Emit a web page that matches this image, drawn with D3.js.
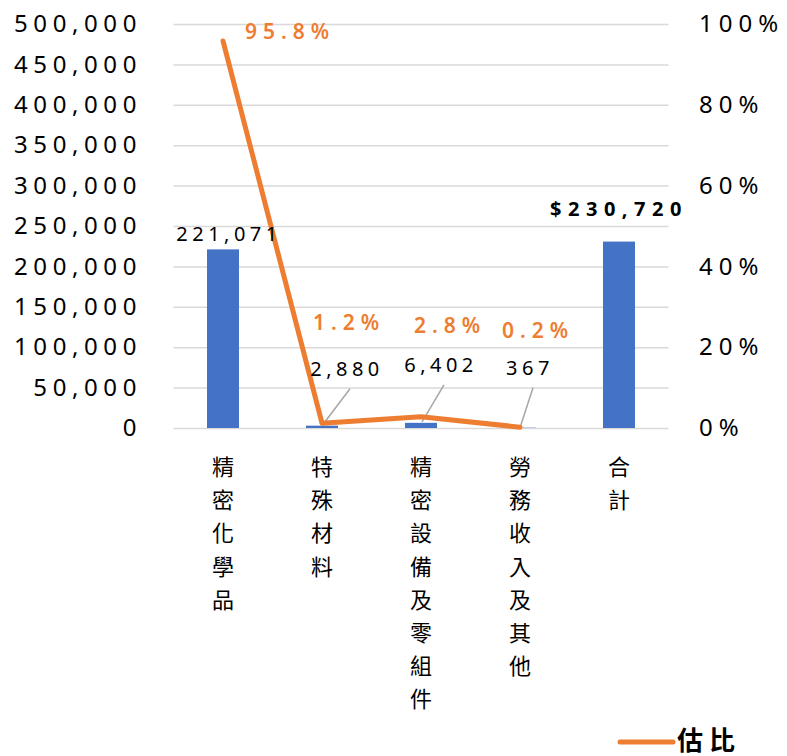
<!DOCTYPE html>
<html>
<head>
<meta charset="utf-8">
<script src="https://cdn.jsdelivr.net/npm/d3@7"></script>
<style>
  body { margin: 0; background: #fff; }
  svg text { font-family: "Noto Sans CJK TC", "Noto Sans", sans-serif; }
</style>
</head>
<body>
<svg width="787" height="756"></svg>
<script>
const categories = ["精密化學品", "特殊材料", "精密設備及零組件", "勞務收入及其他", "合計"]
const amounts = [221071, 2880, 6402, 367, 230720]
const shares = [95.8, 1.2, 2.8, 0.2]
const leftTicks = [0, 50000, 100000, 150000, 200000, 250000, 300000, 350000, 400000, 450000, 500000]
const rightTicks = [0, 20, 40, 60, 80, 100]
const legendLabel = "估比"

// label placement offsets (dx, dy from the mark)
const amountOffsets = [[6, -15], [25, -57], [20, -58], [10, -60], [0, -33]]
const shareOffsets = [[67, -9], [27, -100], [29, -91], [18, -96]]

const svg = d3.select("svg")
const plotL = 173.5, plotR = 668.5, plotT = 24, plotB = 428

const x = d3.scaleBand().domain(categories).range([plotL, plotR])
const y = d3.scaleLinear().domain([0, 500000]).range([plotB, plotT])
const y2 = d3.scaleLinear().domain([0, 100]).range([plotB, plotT])

const fmt = d3.format(",")

// grid
svg.append("g").attr("class", "grid")
  .attr("transform", "translate(" + plotL + ",0)")
  .call(d3.axisLeft(y).tickValues(leftTicks).tickSize(-(plotR - plotL)).tickFormat(""))
  .call(g => g.select(".domain").remove())
  .call(g => g.selectAll("line").attr("stroke", "#d9d9d9").attr("stroke-width", 1.5))

// left axis labels
svg.append("g")
  .attr("transform", "translate(142,0)")
  .call(d3.axisLeft(y).tickValues(leftTicks).tickSize(0).tickPadding(0).tickFormat(fmt))
  .call(g => g.select(".domain").remove())
  .call(g => g.selectAll("text").attr("font-size", 24).attr("letter-spacing", 5.6)
    .attr("fill", "#000").style("font-family", "'Noto Sans', sans-serif"))

// right axis labels
svg.append("g")
  .attr("transform", "translate(699,0)")
  .call(d3.axisRight(y2).tickValues(rightTicks).tickSize(0).tickPadding(0).tickFormat(d => d + "%"))
  .call(g => g.select(".domain").remove())
  .call(g => g.selectAll("text").attr("font-size", 24).attr("letter-spacing", 6)
    .attr("fill", "#000").style("font-family", "'Noto Sans', sans-serif"))

// bars
const bw = 32
svg.selectAll(".bar").data(amounts).enter().append("rect")
  .attr("class", "bar")
  .attr("x", (d, i) => x(categories[i]) + x.bandwidth() / 2 - bw / 2)
  .attr("width", bw)
  .attr("y", d => y(d))
  .attr("height", d => plotB - y(d))
  .attr("fill", "#4472c4")

// leader lines for small bar labels
const leaders = [1, 2, 3]
svg.selectAll(".leader").data(leaders).enter().append("line")
  .attr("x1", i => x(categories[i]) + x.bandwidth() / 2 + amountOffsets[i][0] + 3)
  .attr("y1", i => y(amounts[i]) + amountOffsets[i][1] + 20)
  .attr("x2", i => x(categories[i]) + x.bandwidth() / 2 + (i === 2 ? 1 : 0))
  .attr("y2", i => y(amounts[i]) - (i === 2 ? 1 : 0))
  .attr("stroke", "#a6a6a6").attr("stroke-width", 1.5)

// line
const line = d3.line()
  .x((d, i) => x(categories[i]) + x.bandwidth() / 2)
  .y(d => y2(d))
svg.append("path").datum(shares)
  .attr("d", line)
  .attr("fill", "none")
  .attr("stroke", "#ed7d31")
  .attr("stroke-width", 5)
  .attr("stroke-linejoin", "round")
  .attr("stroke-linecap", "round")

// bar labels
svg.selectAll(".amt").data(amounts).enter().append("text")
  .attr("x", (d, i) => x(categories[i]) + x.bandwidth() / 2 + amountOffsets[i][0])
  .attr("y", (d, i) => y(d) + amountOffsets[i][1] + 7)
  .attr("text-anchor", "middle")
  .attr("font-size", 20)
  .attr("letter-spacing", (d, i) => i === 4 ? 6.5 : 4.5)
  .attr("font-weight", (d, i) => i === 4 ? "bold" : "normal")
  .style("font-family", "'Noto Sans', sans-serif")
  .text((d, i) => (i === 4 ? "$" : "") + fmt(d))

// share labels
svg.selectAll(".pct").data(shares).enter().append("text")
  .attr("x", (d, i) => x(categories[i]) + x.bandwidth() / 2 + shareOffsets[i][0])
  .attr("y", (d, i) => y2(d) + shareOffsets[i][1] + 7)
  .attr("text-anchor", "middle")
  .attr("font-size", 21)
  .attr("font-weight", 600)
  .attr("letter-spacing", 6)
  .attr("fill", "#ed7d31")
  .style("font-family", "'Noto Sans', sans-serif")
  .text(d => d.toFixed(1) + "%")

// category labels, stacked vertically
const cat = svg.selectAll(".cat").data(categories).enter().append("text")
  .attr("text-anchor", "middle")
  .attr("font-size", 22)
  .attr("fill", "#000")
cat.selectAll("tspan").data(d => Array.from(d).map(c => ({ c, k: d }))).enter().append("tspan")
  .attr("x", d => x(d.k) + x.bandwidth() / 2)
  .attr("y", (d, i) => 475 + i * 33.2)
  .text(d => d.c)

// legend
const lg = svg.append("g").attr("transform", "translate(620,742)")
lg.append("line").attr("x1", 0).attr("x2", 53).attr("y1", 0).attr("y2", 0)
  .attr("stroke", "#ed7d31").attr("stroke-width", 5).attr("stroke-linecap", "round")
lg.append("text").attr("x", 57).attr("y", 8)
  .attr("font-size", 26).attr("font-weight", "bold").attr("letter-spacing", 6)
  .text(legendLabel)
</script>
</body>
</html>
